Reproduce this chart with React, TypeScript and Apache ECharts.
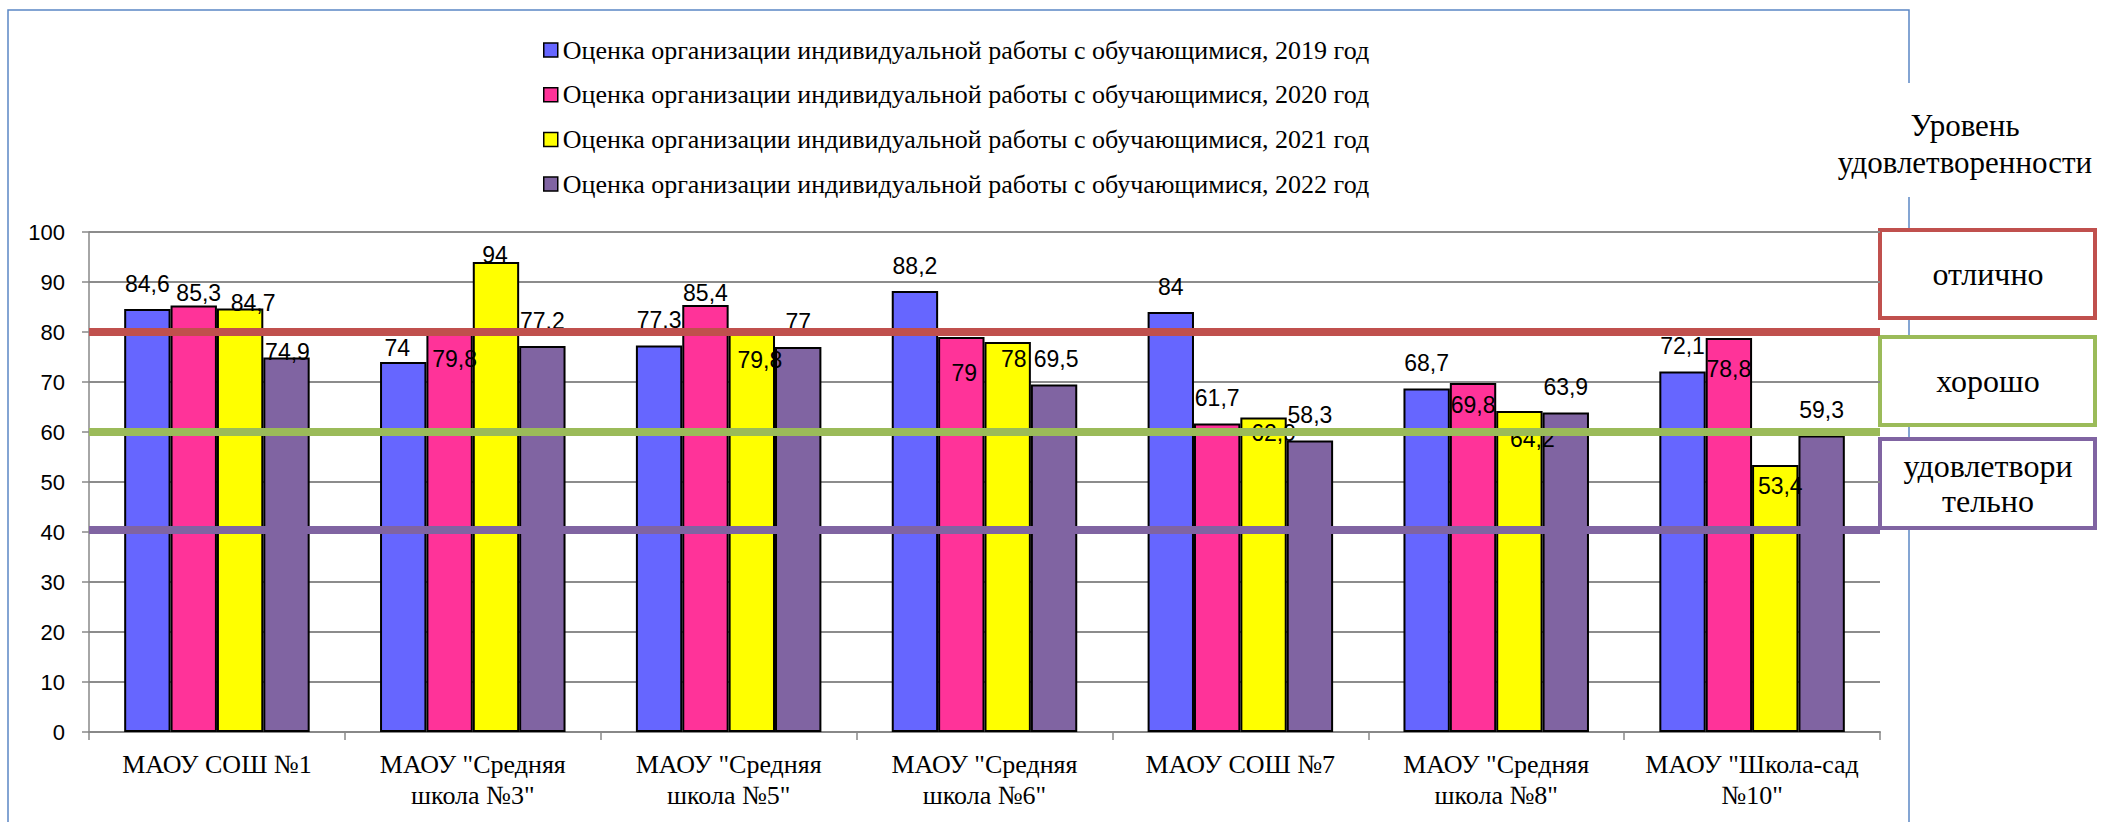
import React, { useEffect, useRef } from "react";
import * as echarts from "echarts";

const categories = [
  "МАОУ СОШ №1",
  'МАОУ "Средняя\nшкола №3"',
  'МАОУ "Средняя\nшкола №5"',
  'МАОУ "Средняя\nшкола №6"',
  "МАОУ СОШ №7",
  'МАОУ "Средняя\nшкола №8"',
  'МАОУ "Школа-сад\n№10"',
];

const seriesNames = [
  "Оценка организации индивидуальной работы с обучающимися, 2019 год",
  "Оценка организации индивидуальной работы с обучающимися, 2020 год",
  "Оценка организации индивидуальной работы с обучающимися, 2021 год",
  "Оценка организации индивидуальной работы с обучающимися, 2022 год",
];

const values2019 = [84.6, 74, 77.3, 88.2, 84, 68.7, 72.1];
const values2020 = [85.3, 79.8, 85.4, 79, 61.7, 69.8, 78.8];
const values2021 = [84.7, 94, 79.8, 78, 62.9, 64.2, 53.4];
const values2022 = [74.9, 77.2, 77, 69.5, 58.3, 63.9, 59.3];

const yTicks = { min: 0, max: 100, interval: 10 };

const levelValues = [80, 60, 40.5];
const levelNames = ["отлично", "хорошо", "удовлетвори\nтельно"];
const levelTitle = "Уровень\nудовлетворенности";

// styling (kept apart from the data)
const seriesColors = ["#6666FF", "#FF3399", "#FFFF00", "#8064A2"];
const levelColors = ["#C0504D", "#9BBB59", "#8064A2"];
const labelShifts = [
  [[0, 0], [-6, 11], [0, 0], [0, 0], [0, 0], [0, 0], [0, 0]],
  [[5, 13], [5, 51], [0, 13], [3, 61], [0, 0], [0, 47], [0, 56]],
  [[13, 20], [-1, 18], [8, 52], [6, 42], [10, 41], [13, 53], [5, 46]],
  [[1, 20], [0, 0], [0, 0], [2, 0], [0, 0], [0, 0], [0, 0]],
];

const allValues = [values2019, values2020, values2021, values2022];

export default function App() {
  const ref = useRef<HTMLDivElement>(null);
  useEffect(() => {
    if (!ref.current) return;
    const chart = echarts.init(ref.current, null, { renderer: "svg" });
    const fmt = (v: number) => String(v).replace(".", ",");
    const series: any[] = allValues.map((vals, si) => ({
      name: seriesNames[si],
      type: "bar",
      barGap: "0%",
      barCategoryGap: "27.5%",
      itemStyle: { color: seriesColors[si], borderColor: "#000", borderWidth: 2 },
      label: {
        show: true,
        position: "top",
        distance: 14,
        fontFamily: "Liberation Sans",
        fontSize: 23,
        color: "#000",
        formatter: (p: any) => fmt(p.value),
      },
      data: vals.map((v, i) => ({
        value: v,
        label: { offset: labelShifts[si][i] },
      })),
    }));
    series[0].markLine = {
      silent: true,
      symbol: ["none", "none"],
      label: { show: false },
      z: 10,
      data: levelValues.map((v, i) => ({
        yAxis: v,
        lineStyle: {
          color: levelColors[i],
          width: 8,
          type: "solid",
          opacity: 1,
        },
      })),
    };

    const frameColor = "#5b87c5";
    const boxTop = [230, 337, 439];
    const boxH = [88, 88, 89];
    const graphic: any[] = [
      { type: "polyline", shape: { points: [[1909, 83], [1909, 10], [8, 10], [8, 830]] }, style: { stroke: frameColor, lineWidth: 1.5, fill: null } },
      { type: "line", shape: { x1: 1909, y1: 197, x2: 1909, y2: 830 }, style: { stroke: frameColor, lineWidth: 1.5 } },
      {
        type: "text",
        x: 1965,
        y: 144,
        style: {
          text: levelTitle,
          fontFamily: "Liberation Serif",
          fontSize: 31,
          lineHeight: 37,
          fill: "#000",
          align: "center",
          verticalAlign: "middle",
        },
      },
    ];
    levelNames.forEach((name, i) => {
      graphic.push({
        type: "rect",
        shape: { x: 1880, y: boxTop[i], width: 215, height: boxH[i] },
        style: { fill: "#fff", stroke: levelColors[i], lineWidth: 4 },
      });
      graphic.push({
        type: "text",
        x: 1988,
        y: boxTop[i] + boxH[i] / 2,
        style: {
          text: name,
          fontFamily: "Liberation Serif",
          fontSize: 32,
          lineHeight: 35,
          fill: "#000",
          align: "center",
          verticalAlign: "middle",
        },
      });
    });

    chart.setOption({
      animation: false,
      backgroundColor: "#fff",
      grid: { left: 89, right: 221, top: 232, bottom: 90, containLabel: false },
      legend: {
        orient: "vertical",
        left: 538,
        top: 32,
        itemWidth: 14,
        itemHeight: 14,
        itemGap: 18.7,
        icon: "rect",
        itemStyle: { borderColor: "#000", borderWidth: 1.5 },
        textStyle: { fontFamily: "Liberation Serif", fontSize: 26, lineHeight: 26, color: "#000" },
        data: seriesNames,
      },
      xAxis: {
        type: "category",
        data: categories,
        axisLine: { lineStyle: { color: "#888", width: 2 } },
        axisTick: { show: true, length: 8, lineStyle: { color: "#888", width: 1.5 } },
        axisLabel: {
          interval: 0,
          fontFamily: "Liberation Serif",
          fontSize: 26,
          lineHeight: 31,
          color: "#000",
          margin: 17,
        },
      },
      yAxis: {
        type: "value",
        min: yTicks.min,
        max: yTicks.max,
        interval: yTicks.interval,
        axisLine: { show: true, lineStyle: { color: "#888", width: 1.5 } },
        axisTick: { show: true, length: 7, lineStyle: { color: "#888", width: 1.5 } },
        splitLine: { lineStyle: { color: "#8c8c8c", width: 2 } },
        axisLabel: { fontFamily: "Liberation Sans", fontSize: 22, color: "#000", margin: 24 },
      },
      series,
      graphic,
    });
    return () => chart.dispose();
  }, []);
  return (
    <div
      ref={ref}
      style={{ position: "fixed", left: 0, top: 0, width: 2101, height: 822, background: "#fff" }}
    />
  );
}
